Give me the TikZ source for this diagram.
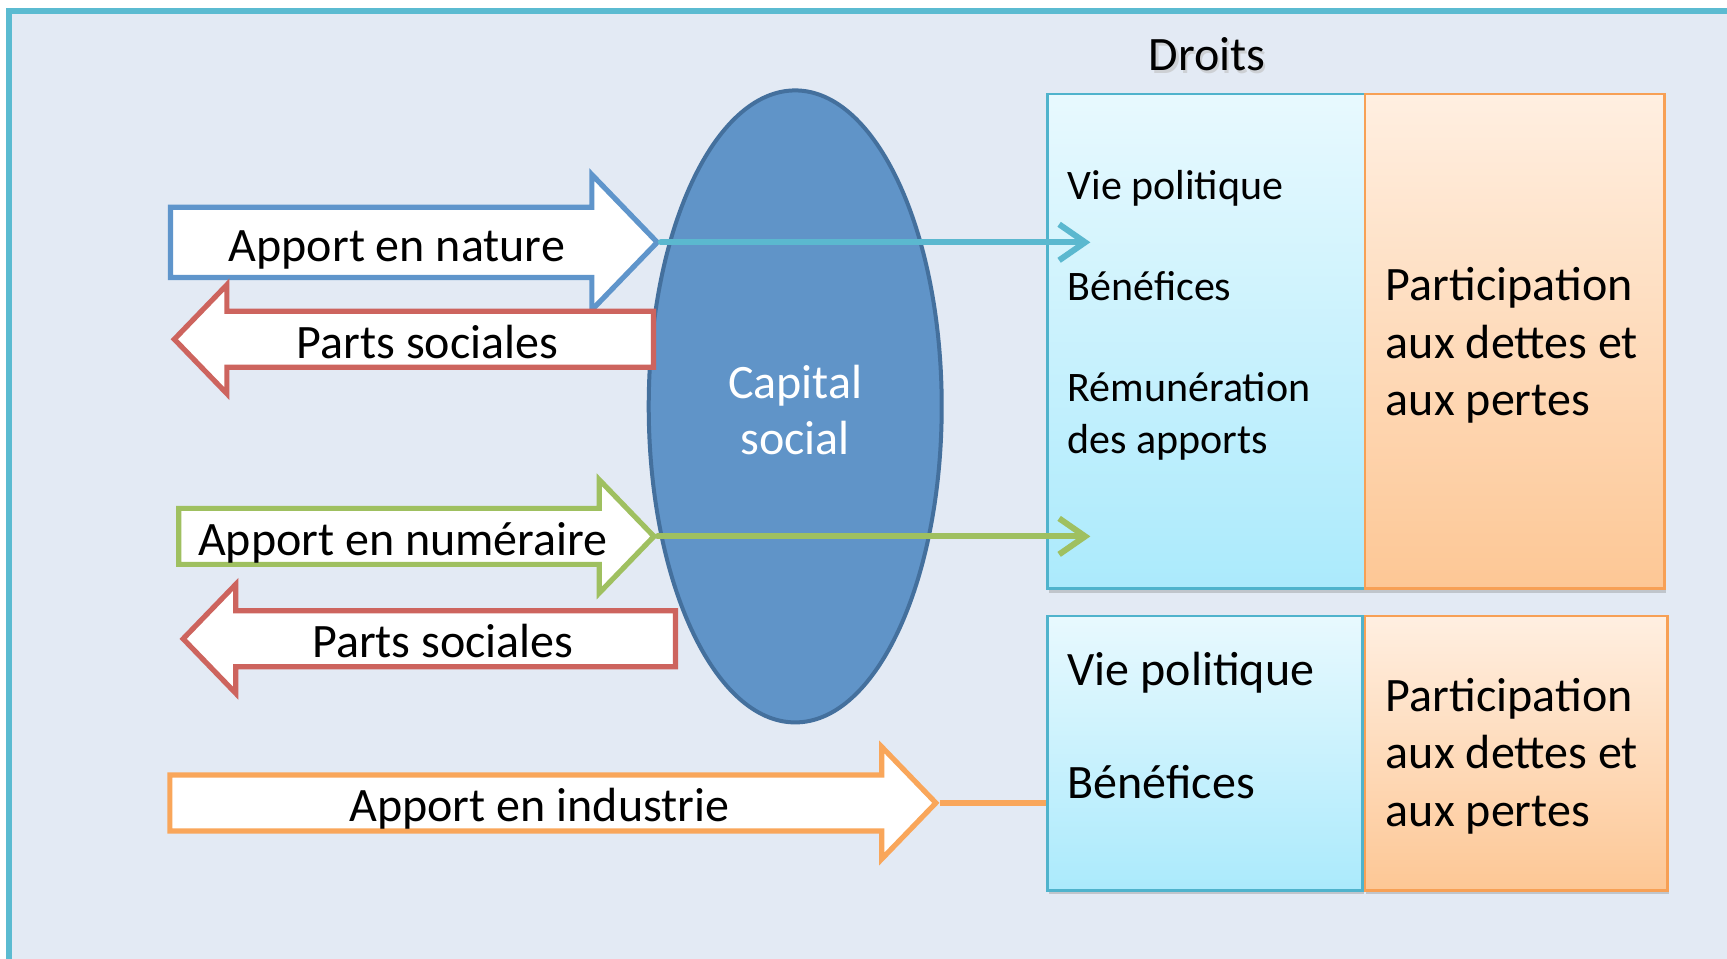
\documentclass[tikz,border=0pt]{standalone}
\usepackage{fontspec}
\setmainfont{Carlito}
\usetikzlibrary{shapes.geometric,shapes.arrows,arrows.meta,shadows}

\definecolor{bgfill}{HTML}{E3EAF4}
\definecolor{frame}{HTML}{5BBBD1}
\definecolor{natblue}{HTML}{5F95CB}
\definecolor{partred}{HTML}{CD645E}
\definecolor{numgreen}{HTML}{9FC060}
\definecolor{indorange}{HTML}{F9A65A}
\definecolor{cyanline}{HTML}{5BB8CF}
\definecolor{capfill}{HTML}{6094C8}
\definecolor{capdraw}{HTML}{44709D}
\definecolor{droitline}{HTML}{4FB3CC}
\definecolor{droittop}{HTML}{E8F9FE}
\definecolor{droitbot}{HTML}{ABEAFC}
\definecolor{detteline}{HTML}{F7A055}
\definecolor{dettetop}{HTML}{FFEFE1}
\definecolor{dettebot}{HTML}{FDC795}

\newcommand{\grandfont}{\fontsize{24pt}{28.6pt}\selectfont}
\newcommand{\petitfont}{\fontsize{21pt}{25.9pt}\selectfont}

\tikzset{
  apport/.style={single arrow, single arrow tip angle=92, single arrow head indent=0pt,
    draw, fill=white, line width=2.6pt, font=\grandfont, text height=20.5pt, text depth=1.5pt,
    inner ysep=1.7pt, inner xsep=0pt, single arrow head extend=13.2pt},
  droitbox/.style={rectangle, draw=droitline, line width=1.4pt, top color=droittop,
    bottom color=droitbot, anchor=north west,
    drop shadow={shadow xshift=0.6pt, shadow yshift=-2pt, opacity=0.35}},
  dettebox/.style={rectangle, draw=detteline, line width=1.4pt, top color=dettetop,
    bottom color=dettebot, anchor=north west,
    drop shadow={shadow xshift=0.6pt, shadow yshift=-2pt, opacity=0.35}},
  item/.style={anchor=base west, font=\petitfont, align=left, inner sep=0pt},
  gros/.style={anchor=base west, font=\grandfont, align=left, inner sep=0pt},
  link/.style={line width=3pt, line cap=round, -{Straight Barb[length=13pt, width=18pt]}}
}

\begin{document}
\begin{tikzpicture}[x=0.5507pt, y=-0.5507pt]
\useasboundingbox (0,0) rectangle (1568,870);
\clip (0,0) rectangle (1568,870);
\fill[white] (0,0) rectangle (1568,870);
\draw[fill=bgfill, draw=frame, line width=2.75pt] (8,10) rectangle (1620,920);

% capital
\node[ellipse, draw=capdraw, fill=capfill, line width=2pt, minimum width=146.5pt,
  minimum height=316pt] (capital) at (722,369) {};
\node[text=white, font=\fontsize{24pt}{28pt}\selectfont, align=center]
  (captext) at (722,372) {Capital\\social};

% apports et parts
\node[apport, draw=natblue, minimum height=243.4pt, single arrow head extend=16.3pt,
  inner ysep=5.25pt, anchor=tip] (nature) at (600,220) {Apport en nature};
\node[apport, draw=partred, minimum height=239.6pt, shape border rotate=180,
  anchor=tip] (parts1) at (155,308) {Parts sociales};
\node[apport, draw=numgreen, minimum height=237.6pt, single arrow head extend=14.3pt,
  anchor=tip] (numeraire) at (597,487) {Apport en numéraire};
\node[apport, draw=partred, minimum height=246.2pt, shape border rotate=180,
  anchor=tip] (parts2) at (163,580) {Parts sociales};
\node[apport, draw=indorange, minimum height=383pt, single arrow head extend=14pt,
  anchor=tip] (industrie) at (853,729) {Apport en industrie};

% droits
\node[font=\grandfont, anchor=base, text=gray!50, opacity=0.6] at (1098,67) {Droits};
\node[font=\grandfont, anchor=base] (droits) at (1096,64) {Droits};
\node[droitbox, minimum width=158.6pt, minimum height=247.3pt] (droit1) at (950,84) {};
\node[dettebox, minimum width=149.8pt, minimum height=247.3pt] (dette1) at (1238,84) {};
\node[droitbox, minimum width=157.5pt, minimum height=137.1pt] (droit2) at (950,558) {};
\node[dettebox, minimum width=151.4pt, minimum height=137.1pt] (dette2) at (1238,558) {};

\node[item] (vie1) at (969,181) {Vie politique};
\node[item] (benef1) at (969,273) {Bénéfices};
\node[item] (remu1) at (969,412) {Rémunération\\des apports};
\node[gros] (part1) at (1258,377) {Participation\\aux dettes et\\aux pertes};

\node[gros] (vie2) at (969,622) {Vie politique};
\node[gros] (benef2) at (969,725) {Bénéfices};
\node[gros] (part2) at (1258,750) {Participation\\aux dettes et\\aux pertes};

% liens
\coordinate (natend) at (990,220);
\coordinate (numend) at (990,487);
\draw[link, draw=cyanline] (nature.tip) -- (natend);
\draw[link, draw=numgreen] (numeraire.tip) -- (numend);
\draw[line width=3pt, draw=indorange] (industrie.tip) -- (industrie.tip -| droit2.west);
\end{tikzpicture}
\end{document}
